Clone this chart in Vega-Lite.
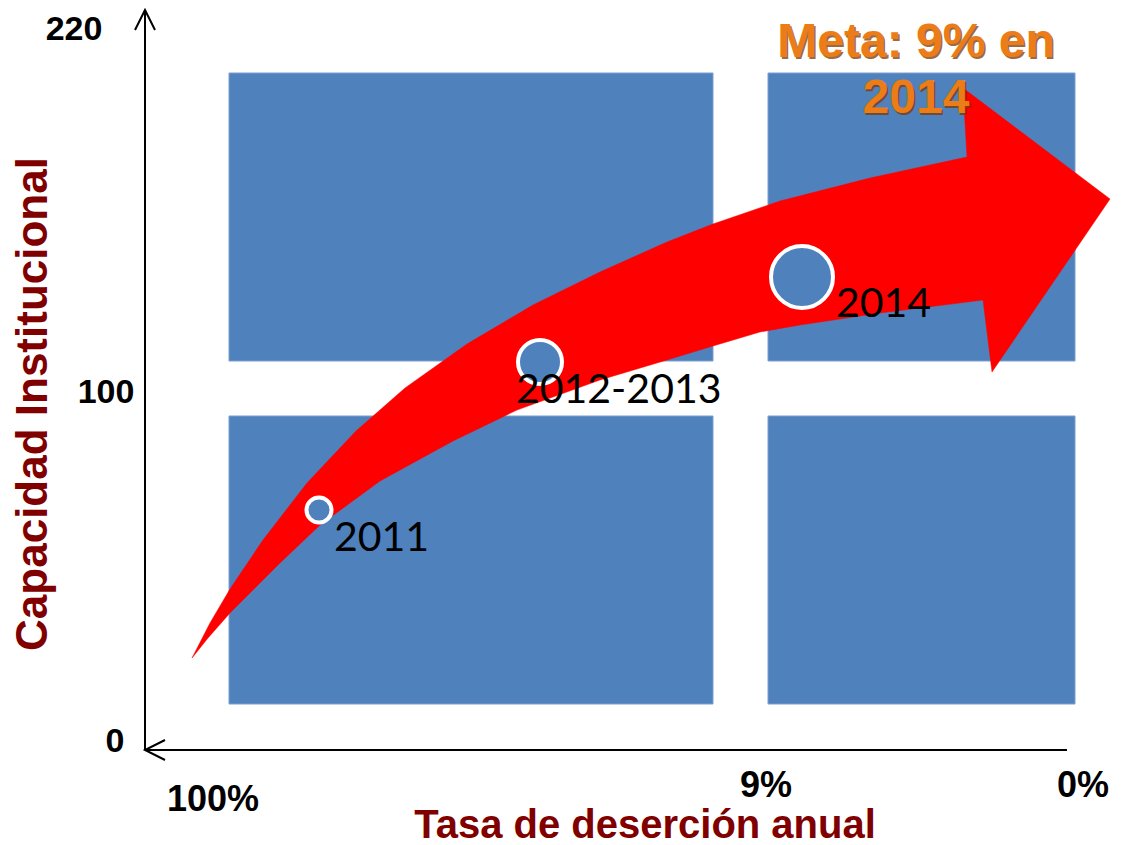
{
  "$schema": "https://vega.github.io/schema/vega-lite/v6.json",
  "width": 1122,
  "height": 845,
  "padding": 0,
  "autosize": {"type": "none"},
  "background": "white",
  "config": {"view": {"stroke": null}},
  "datasets": {
    "quadrants": [
      {"q": "bajo-izq", "x": 229, "x2": 713, "y": 416, "y2": 704},
      {"q": "bajo-der", "x": 768, "x2": 1075, "y": 416, "y2": 704},
      {"q": "alto-izq", "x": 229, "x2": 713, "y": 73, "y2": 361},
      {"q": "alto-der", "x": 768, "x2": 1075, "y": 73, "y2": 361}
    ],
    "arrow": [
      {"i": 1, "x": 192, "y": 658},
      {"i": 2, "x": 210, "y": 623},
      {"i": 3, "x": 230, "y": 589},
      {"i": 4, "x": 263, "y": 540},
      {"i": 5, "x": 307, "y": 483},
      {"i": 6, "x": 356, "y": 431},
      {"i": 7, "x": 405, "y": 388},
      {"i": 8, "x": 467, "y": 344},
      {"i": 9, "x": 533, "y": 305},
      {"i": 10, "x": 600, "y": 272},
      {"i": 11, "x": 667, "y": 242},
      {"i": 12, "x": 713, "y": 224},
      {"i": 13, "x": 780, "y": 201},
      {"i": 14, "x": 870, "y": 178},
      {"i": 15, "x": 967, "y": 157},
      {"i": 16, "x": 963, "y": 88},
      {"i": 17, "x": 1110, "y": 199},
      {"i": 18, "x": 992, "y": 372},
      {"i": 19, "x": 983, "y": 300},
      {"i": 20, "x": 880, "y": 313},
      {"i": 21, "x": 800, "y": 325},
      {"i": 22, "x": 760, "y": 332},
      {"i": 23, "x": 713, "y": 346},
      {"i": 24, "x": 667, "y": 360},
      {"i": 25, "x": 600, "y": 380},
      {"i": 26, "x": 517, "y": 410},
      {"i": 27, "x": 453, "y": 441},
      {"i": 28, "x": 380, "y": 481},
      {"i": 29, "x": 320, "y": 525},
      {"i": 30, "x": 280, "y": 563},
      {"i": 31, "x": 230, "y": 613},
      {"i": 32, "x": 208, "y": 638}
    ],
    "points": [
      {"year": "2011", "x": 319, "y": 510, "stage": 1, "lx": 334, "ly": 551},
      {"year": "2012-2013", "x": 540, "y": 362, "stage": 2, "lx": 516, "ly": 403},
      {"year": "2014", "x": 802, "y": 277, "stage": 3, "lx": 836, "ly": 317}
    ],
    "axisLines": [
      {"axis": "y", "x": 145, "y": 10, "x2": 145, "y2": 750},
      {"axis": "x", "x": 145, "y": 750, "x2": 1067, "y2": 750}
    ],
    "arrowHeads": [
      {"head": "y", "i": 1, "x": 135, "y": 30},
      {"head": "y", "i": 2, "x": 145, "y": 10},
      {"head": "y", "i": 3, "x": 155, "y": 30},
      {"head": "x", "i": 1, "x": 165, "y": 740},
      {"head": "x", "i": 2, "x": 145, "y": 750},
      {"head": "x", "i": 3, "x": 165, "y": 760}
    ],
    "yTicks": [
      {"label": "220", "x": 74, "y": 40},
      {"label": "100", "x": 106, "y": 403},
      {"label": "0", "x": 115, "y": 752}
    ],
    "xTicks": [
      {"label": "100%", "x": 213, "y": 811},
      {"label": "9%", "x": 766, "y": 797},
      {"label": "0%", "x": 1083, "y": 797}
    ],
    "xTitle": [{"label": "Tasa de deserción anual", "x": 645, "y": 838}],
    "yTitle": [{"label": "Capacidad Institucional", "x": 47, "y": 404}],
    "meta": [
      {"label": "Meta: 9% en", "x": 916, "y": 57},
      {"label": "2014", "x": 916, "y": 113}
    ]
  },
  "layer": [
    {
      "data": {"name": "quadrants"},
      "mark": {"type": "rect", "color": "#4F81BD", "stroke": "#7A9FD0", "strokeWidth": 1},
      "encoding": {
        "x": {"field": "x", "type": "quantitative", "scale": {"domain": [0, 1122], "nice": false, "zero": false}, "axis": null},
        "x2": {"field": "x2"},
        "y": {"field": "y", "type": "quantitative", "scale": {"domain": [0, 845], "reverse": true, "nice": false, "zero": false}, "axis": null},
        "y2": {"field": "y2"}
      }
    },
    {
      "data": {"name": "arrow"},
      "mark": {"type": "line", "interpolate": "linear-closed", "fill": "#FF0000", "stroke": "#FF0000", "strokeWidth": 0.5},
      "encoding": {
        "x": {"field": "x", "type": "quantitative"},
        "y": {"field": "y", "type": "quantitative"},
        "order": {"field": "i", "type": "quantitative"}
      }
    },
    {
      "data": {"name": "points"},
      "mark": {"type": "point", "shape": "circle", "filled": true, "fill": "#4F81BD", "stroke": "white", "strokeWidth": 4, "opacity": 1},
      "encoding": {
        "x": {"field": "x", "type": "quantitative"},
        "y": {"field": "y", "type": "quantitative"},
        "size": {"field": "stage", "type": "quantitative", "scale": {"type": "linear", "domain": [1, 2, 3], "range": [625, 1936, 3844], "zero": false, "nice": false}, "legend": null}
      }
    },
    {
      "data": {"name": "points"},
      "mark": {"type": "text", "font": "Lato", "fontSize": 41, "align": "left", "baseline": "alphabetic", "color": "black"},
      "encoding": {
        "x": {"field": "lx", "type": "quantitative"},
        "y": {"field": "ly", "type": "quantitative"},
        "text": {"field": "year"}
      }
    },
    {
      "data": {"name": "axisLines"},
      "mark": {"type": "rule", "color": "black", "strokeWidth": 2},
      "encoding": {
        "x": {"field": "x", "type": "quantitative"},
        "y": {"field": "y", "type": "quantitative"},
        "x2": {"field": "x2"},
        "y2": {"field": "y2"}
      }
    },
    {
      "data": {"name": "arrowHeads"},
      "mark": {"type": "line", "color": "black", "strokeWidth": 2},
      "encoding": {
        "x": {"field": "x", "type": "quantitative"},
        "y": {"field": "y", "type": "quantitative"},
        "detail": {"field": "head"},
        "order": {"field": "i", "type": "quantitative"}
      }
    },
    {
      "data": {"name": "yTicks"},
      "mark": {"type": "text", "font": "Liberation Sans", "fontWeight": "bold", "fontSize": 34, "align": "center", "baseline": "alphabetic", "color": "black"},
      "encoding": {
        "x": {"field": "x", "type": "quantitative"},
        "y": {"field": "y", "type": "quantitative"},
        "text": {"field": "label"}
      }
    },
    {
      "data": {"name": "xTicks"},
      "mark": {"type": "text", "font": "Liberation Sans", "fontWeight": "bold", "fontSize": 36, "align": "center", "baseline": "alphabetic", "color": "black"},
      "encoding": {
        "x": {"field": "x", "type": "quantitative"},
        "y": {"field": "y", "type": "quantitative"},
        "text": {"field": "label"}
      }
    },
    {
      "data": {"name": "xTitle"},
      "mark": {"type": "text", "font": "Liberation Sans", "fontWeight": "bold", "fontSize": 40, "align": "center", "baseline": "alphabetic", "color": "#800000"},
      "encoding": {
        "x": {"field": "x", "type": "quantitative"},
        "y": {"field": "y", "type": "quantitative"},
        "text": {"field": "label"}
      }
    },
    {
      "data": {"name": "yTitle"},
      "mark": {"type": "text", "font": "Liberation Sans", "fontWeight": "bold", "fontSize": 44, "align": "center", "baseline": "alphabetic", "angle": 270, "color": "#800000"},
      "encoding": {
        "x": {"field": "x", "type": "quantitative"},
        "y": {"field": "y", "type": "quantitative"},
        "text": {"field": "label"}
      }
    },
    {
      "data": {"name": "meta"},
      "mark": {"type": "text", "font": "Liberation Sans", "fontWeight": "bold", "fontSize": 48, "align": "center", "baseline": "alphabetic", "color": "#7A3A05", "opacity": 0.75, "dx": 1.5, "dy": 2},
      "encoding": {
        "x": {"field": "x", "type": "quantitative"},
        "y": {"field": "y", "type": "quantitative"},
        "text": {"field": "label"}
      }
    },
    {
      "data": {"name": "meta"},
      "mark": {"type": "text", "font": "Liberation Sans", "fontWeight": "bold", "fontSize": 48, "align": "center", "baseline": "alphabetic", "color": "#EC7C17"},
      "encoding": {
        "x": {"field": "x", "type": "quantitative"},
        "y": {"field": "y", "type": "quantitative"},
        "text": {"field": "label"}
      }
    }
  ]
}
